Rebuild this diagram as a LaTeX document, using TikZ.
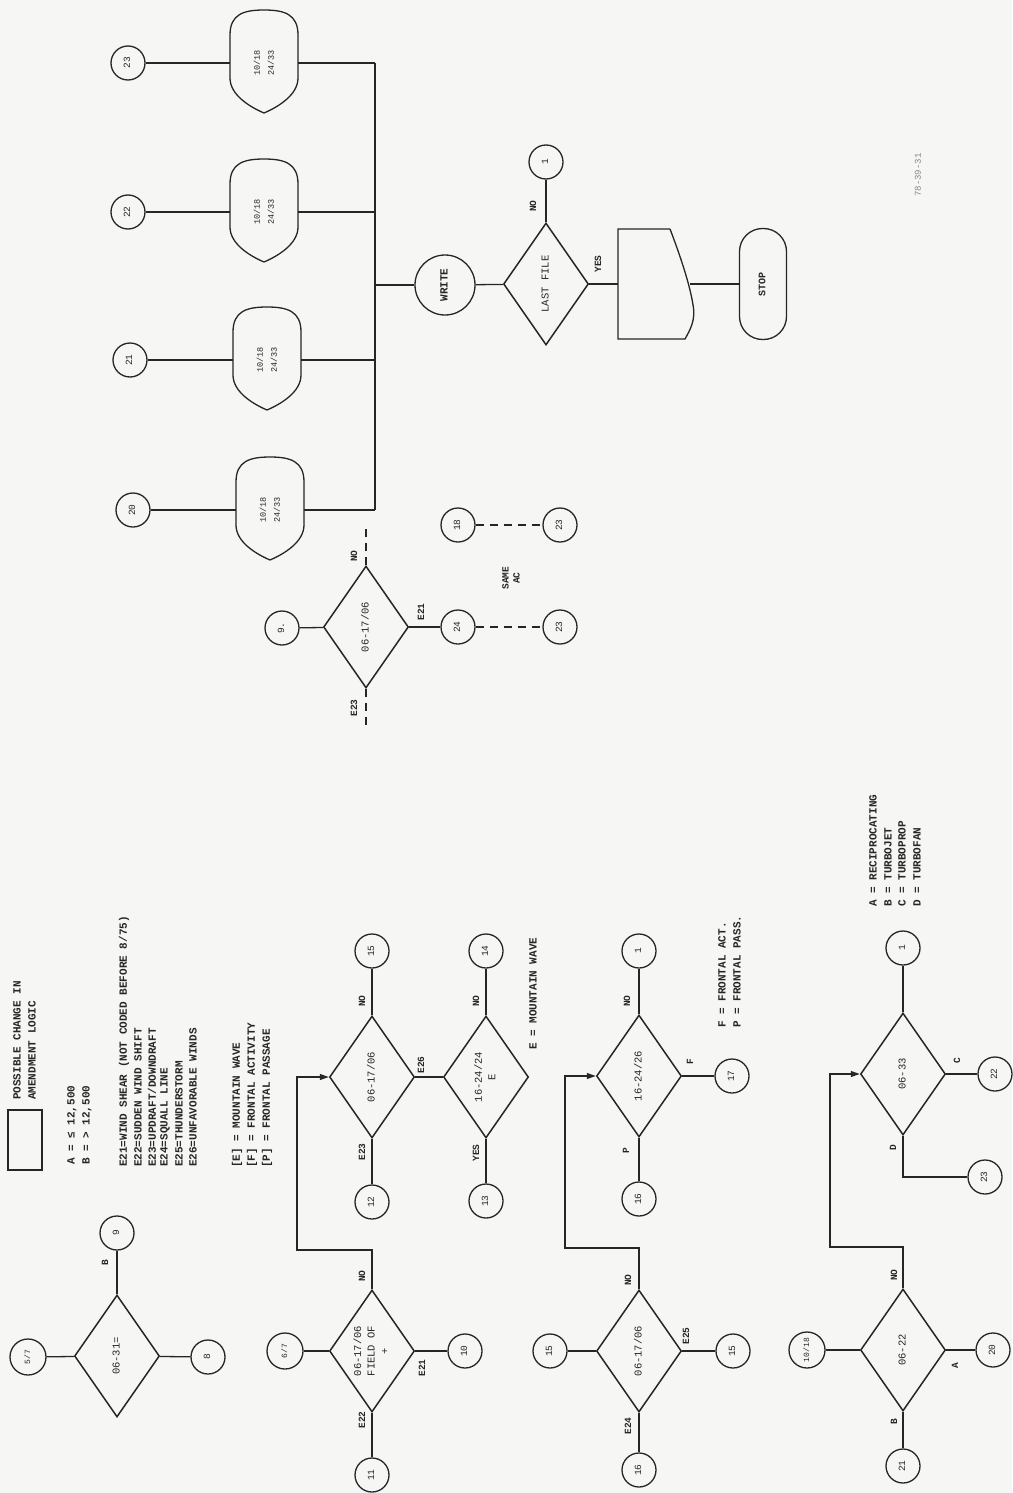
\documentclass[tikz,border=0pt]{standalone}
\usepackage{fontspec}
\usepackage{graphicx}
\setmainfont{Liberation Mono}
\usetikzlibrary{arrows.meta,shapes.geometric,calc}
\definecolor{bg}{RGB}{246,246,244}
\definecolor{ink}{RGB}{38,38,38}
\newcommand{\rt}[1]{\rotatebox{90}{\begin{tabular}{@{}c@{}}#1\end{tabular}}}
\begin{document}
\begin{tikzpicture}[x=1pt,y=-1pt,
  every node/.style={text=ink},
  ln/.style={draw=ink, line width=1.3pt},
  dia/.style={shape=diamond, draw=ink, line width=1.5pt, minimum width=85pt, minimum height=122pt, inner sep=0pt, aspect=0.7, font=\fontsize{10.5}{13.5}\selectfont},
  conn/.style={shape=circle, draw=ink, line width=1.3pt, minimum size=34pt, inner sep=0pt, font=\fontsize{9.5}{11}\selectfont},
  bigconn/.style={conn, minimum size=36pt, font=\fontsize{8}{10}\selectfont},
  lbl/.style={rotate=90, font=\bfseries\fontsize{9.5}{11}\selectfont, inner sep=0pt},
  leg/.style={rotate=90, anchor=west, font=\bfseries\fontsize{11}{13}\selectfont, inner sep=0pt},
  dsh/.style={ln, dash pattern=on 8pt off 6pt},
  arr/.style={ln, -{Triangle[length=9pt,width=6pt]}},
  shieldbox/.style={inner sep=0pt, minimum width=68pt, minimum height=80pt, font=\fontsize{8.5}{14}\selectfont},
]
\fill[bg] (0,0) rectangle (1012,1493);
\useasboundingbox (0,0) rectangle (1012,1493);

% ---------------- top: shields and bus ----------------
\node[conn] (c23t) at (128,63) {\rt{23}};
\node[conn] (c22t) at (128,212) {\rt{22}};
\node[conn] (c21t) at (130,360) {\rt{21}};
\node[conn] (c20t) at (133,510) {\rt{20}};
\node[shieldbox] (s1) at (264,63) {\rt{10/18\\24/33}};
\node[shieldbox] (s2) at (264,212) {\rt{10/18\\24/33}};
\node[shieldbox] (s3) at (267,360) {\rt{10/18\\24/33}};
\node[shieldbox] (s4) at (270,510) {\rt{10/18\\24/33}};
\foreach \s in {s1,s2,s3,s4}{
  \draw[ln] ($(\s)+(-34,-28)$) .. controls ($(\s)+(-34,-49)$) and ($(\s)+(-20,-53)$) .. ($(\s)+(0,-53)$)
    .. controls ($(\s)+(20,-53)$) and ($(\s)+(34,-49)$) .. ($(\s)+(34,-28)$)
    -- ($(\s)+(34,15)$) .. controls ($(\s)+(34,32)$) and ($(\s)+(14,44)$) .. ($(\s)+(0,50)$)
    .. controls ($(\s)+(-14,44)$) and ($(\s)+(-34,32)$) .. ($(\s)+(-34,15)$) -- cycle;
}
\coordinate (bustop) at (375,63);
\coordinate (busbot) at (375,510);
\draw[ln] (bustop) -- (busbot);
\draw[ln] (c23t) -- (s1);
\draw[ln] (c22t) -- (s2);
\draw[ln] (c21t) -- (s3);
\draw[ln] (c20t) -- (s4);
\draw[ln] (s1) -- (s1 -| bustop);
\draw[ln] (s2) -- (s2 -| bustop);
\draw[ln] (s3) -- (s3 -| bustop);
\draw[ln] (s4) -- (s4 -| bustop);

% WRITE / LAST FILE / document / STOP
\node[conn, minimum size=60pt, font=\bfseries\fontsize{11}{13}\selectfont] (write) at (445,285) {\rt{WRITE}};
\coordinate (busw) at (375,285);
\draw[ln] (busw) -- (write);
\node[dia] (dLF) at (546,284) {\rt{LAST FILE}};
\draw[ln] (write) -- (dLF);
\node[conn] (c1a) at (546,162) {\rt{1}};
\draw[ln] (dLF.north) -- (c1a);
\node[lbl] (lNOa) at (533,206) {NO};
\node[minimum width=72pt, minimum height=110pt, inner sep=0pt] (doc) at (654,284) {};
\draw[ln] (dLF) -- (doc);
\node[lbl] (lYESa) at (598,264) {YES};
\draw[ln] (670,229) -- (618,229) -- (618,339) -- (685,339)
  .. controls (690,330) and (696,320) .. (693,305)
  .. controls (690,285) and (680,255) .. (670,229);
\node[draw=ink, line width=1.3pt, rounded corners=23pt, minimum width=47pt, minimum height=111pt, inner sep=0pt, font=\bfseries\fontsize{10}{12}\selectfont] (stop) at (763,284) {\rt{STOP}};
\draw[ln] (doc) -- (stop);
\node[rotate=90, text=ink!55, font=\fontsize{9}{11}\selectfont] (code) at (918,175) {78-39-31};

% ---------------- 06-17/06 with connector 9 ----------------
\node[conn] (c9b) at (282,628) {\rt{9.}};
\node[dia] (d9) at (366,627) {\rt{06-17/06}};
\node[conn] (c24) at (458,627) {\rt{24}};
\node[conn] (c23b) at (560,627) {\rt{23}};
\node[conn] (c18) at (458,525) {\rt{18}};
\node[conn] (c23c) at (560,525) {\rt{23}};
\draw[ln] (c9b) -- (d9);
\draw[ln] (d9) -- (c24);
\draw[dsh] (c24) -- (c23b);
\draw[dsh] (c18) -- (c23c);
\coordinate (stubN) at (366,527);
\coordinate (stubS) at (366,729);
\draw[dsh] (d9.north) -- (stubN);
\draw[dsh] (d9.south) -- (stubS);
\node[lbl] (lNOb) at (354,556) {NO};
\node[lbl] (lE23b) at (354,708) {E23};
\node[lbl] (lE21b) at (421,612) {E21};
\node[lbl, align=center] (same) at (511,578) {SAME\\AC};

% ---------------- left legend ----------------
\node[draw=ink, line width=1.2pt, minimum width=34pt, minimum height=60pt, inner sep=0pt] (box) at (25,1140) {};
\node[leg] (t1) at (17,1100) {POSSIBLE CHANGE IN};
\node[leg] (t2) at (32,1100) {AMENDMENT LOGIC};
\node[leg] (t3) at (72,1165) {A = ≤ 12,500};
\node[leg] (t4) at (87,1165) {B = > 12,500};
\node[leg] (e1) at (124,1167) {E21=WIND SHEAR (NOT CODED BEFORE 8/75)};
\node[leg] (e2) at (138,1167) {E22=SUDDEN WIND SHIFT};
\node[leg] (e3) at (152,1167) {E23=UPDRAFT/DOWNDRAFT};
\node[leg] (e4) at (165,1167) {E24=SQUALL LINE};
\node[leg] (e5) at (179,1167) {E25=THUNDERSTORM};
\node[leg] (e6) at (193,1167) {E26=UNFAVORABLE WINDS};
\node[leg] (m1) at (237,1168) {[E] = MOUNTAIN WAVE};
\node[leg] (m2) at (252,1168) {[F] = FRONTAL ACTIVITY};
\node[leg] (m3) at (267,1168) {[P] = FRONTAL PASSAGE};

\node[bigconn] (c57) at (28,1357) {\rt{5/7}};
\node[dia] (dA) at (117,1356) {\rt{06-31=}};
\node[conn] (c9a) at (117,1233) {\rt{9}};
\node[conn] (c8) at (208,1357) {\rt{8}};
\draw[ln] (c57) -- (dA);
\draw[ln] (dA) -- (c9a);
\draw[ln] (dA) -- (c8);
\node[lbl] (lB) at (105,1263) {B};

% ---------------- row 1 ----------------
\node[bigconn] (c67) at (285,1351) {\rt{6/7}};
\node[dia] (dR1a) at (372,1351) {\rt{06-17/06\\FIELD OF\\+}};
\node[conn] (c11) at (372,1475) {\rt{11}};
\node[conn] (c10) at (465,1351) {\rt{10}};
\node[dia] (dR1b) at (372,1077) {\rt{06-17/06}};
\node[conn] (c12) at (372,1202) {\rt{12}};
\node[conn] (c15a) at (372,951) {\rt{15}};
\node[dia] (dR1c) at (486,1077) {\rt{16-24/24\\E}};
\node[conn] (c13) at (486,1201) {\rt{13}};
\node[conn] (c14) at (486,951) {\rt{14}};
\draw[ln] (c67) -- (dR1a);
\draw[ln] (dR1a) -- (c11);
\draw[ln] (dR1a) -- (c10);
\coordinate (L1) at (297,1250);
\draw[arr] (dR1a.north) |- (L1) |- (dR1b.west);
\draw[ln] (dR1b) -- (c12);
\draw[ln] (dR1b) -- (c15a);
\draw[ln] (dR1b) -- (dR1c);
\draw[ln] (dR1c) -- (c13);
\draw[ln] (dR1c) -- (c14);
\node[lbl] (r1a) at (362,1276) {NO};
\node[lbl] (r1b) at (362,1420) {E22};
\node[lbl] (r1c) at (422,1368) {E21};
\node[lbl] (r1d) at (362,1152) {E23};
\node[lbl] (r1e) at (362,1001) {NO};
\node[lbl] (r1f) at (421,1065) {E26};
\node[lbl] (r1g) at (476,1153) {YES};
\node[lbl] (r1h) at (476,1001) {NO};
\node[leg] (mw) at (533,1050) {E = MOUNTAIN WAVE};

% ---------------- row 2 ----------------
\node[conn] (c15b) at (550,1351) {\rt{15}};
\node[dia] (dR2a) at (639,1351) {\rt{06-17/06}};
\node[conn] (c16b) at (639,1470) {\rt{16}};
\node[conn] (c15c) at (733,1351) {\rt{15}};
\node[dia] (dR2b) at (639,1076) {\rt{16-24/26}};
\node[conn] (c16a) at (639,1199) {\rt{16}};
\node[conn] (c17) at (732,1076) {\rt{17}};
\node[conn] (c1b) at (639,951) {\rt{1}};
\draw[ln] (c15b) -- (dR2a);
\draw[ln] (dR2a) -- (c16b);
\draw[ln] (dR2a) -- (c15c);
\coordinate (L2) at (565,1248);
\draw[arr] (dR2a.north) |- (L2) |- (dR2b.west);
\draw[ln] (dR2b) -- (c16a);
\draw[ln] (dR2b) -- (c17);
\draw[ln] (dR2b) -- (c1b);
\node[lbl] (r2a) at (628,1280) {NO};
\node[lbl] (r2b) at (628,1426) {E24};
\node[lbl] (r2c) at (686,1336) {E25};
\node[lbl] (r2d) at (626,1151) {P};
\node[lbl] (r2e) at (690,1062) {F};
\node[lbl] (r2f) at (627,1001) {NO};
\node[leg] (fa) at (722,1028) {F = FRONTAL ACT.};
\node[leg] (fp) at (737,1028) {P = FRONTAL PASS.};

% ---------------- row 3 ----------------
\node[bigconn] (c1018) at (807,1350) {\rt{10/18}};
\node[dia] (dR3a) at (903,1350) {\rt{06-22}};
\node[conn] (c20) at (993,1350) {\rt{20}};
\node[conn] (c21) at (903,1466) {\rt{21}};
\node[dia] (dR3b) at (903,1074) {\rt{06-33}};
\node[conn] (c22) at (995,1074) {\rt{22}};
\node[conn] (c23d) at (985,1177) {\rt{23}};
\node[conn] (c1c) at (903,948) {\rt{1}};
\draw[ln] (c1018) -- (dR3a);
\draw[ln] (dR3a) -- (c20);
\draw[ln] (dR3a) -- (c21);
\coordinate (L3) at (830,1247);
\draw[arr] (dR3a.north) |- (L3) |- (dR3b.west);
\draw[ln] (dR3b) -- (c22);
\draw[ln] (dR3b.south) |- (c23d);
\draw[ln] (dR3b) -- (c1c);
\node[lbl] (r3a) at (894,1275) {NO};
\node[lbl] (r3b) at (955,1366) {A};
\node[lbl] (r3c) at (894,1422) {B};
\node[lbl] (r3d) at (893,1148) {D};
\node[lbl] (r3e) at (957,1061) {C};
\node[leg] (ta) at (873,907) {A = RECIPROCATING};
\node[leg] (tb) at (888,907) {B = TURBOJET};
\node[leg] (tc) at (902,907) {C = TURBOPROP};
\node[leg] (td) at (917,907) {D = TURBOFAN};
\end{tikzpicture}
\end{document}
